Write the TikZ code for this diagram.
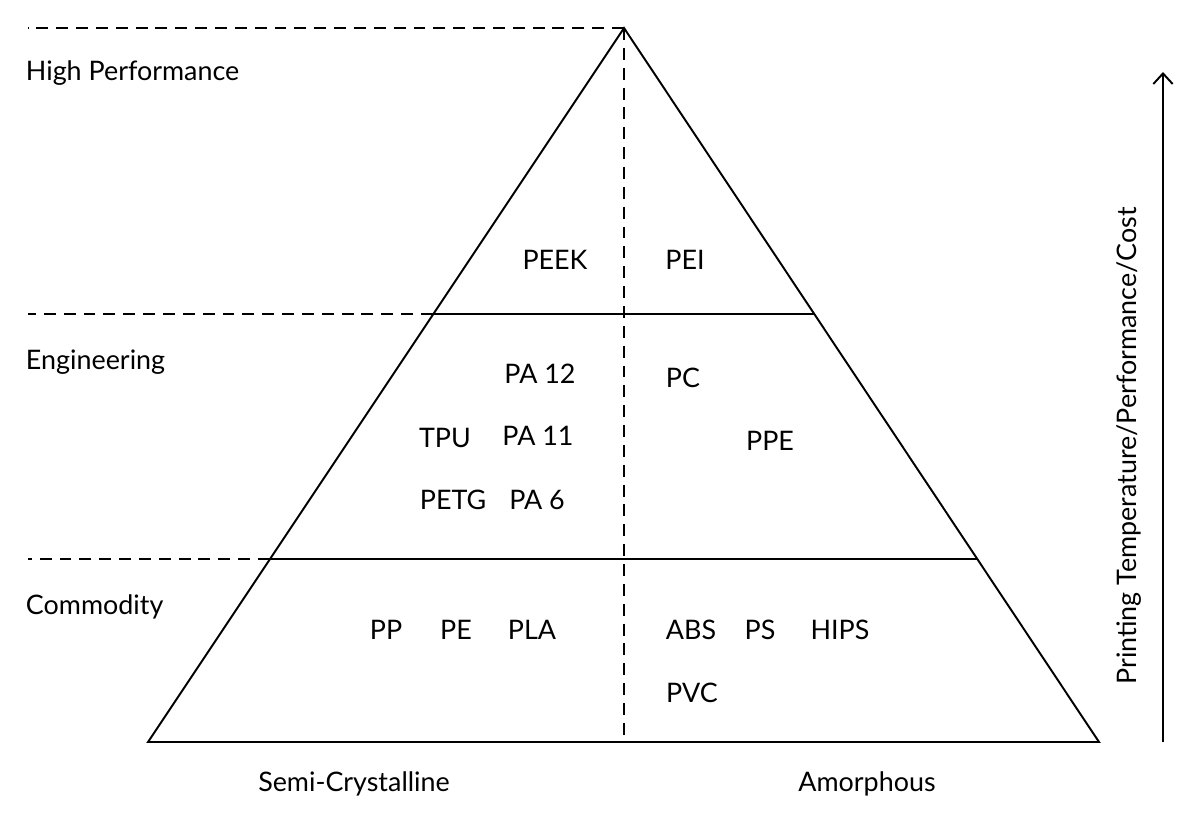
\documentclass[tikz,border=0pt]{standalone}
\usepackage{fontspec}
\setmainfont{Lato}
\usetikzlibrary{arrows.meta}
\tikzset{>={Straight Barb[length=6pt,width=11pt]}}

\begin{document}
\begin{tikzpicture}[x=0.02cm,y=-0.02cm,line width=1.1pt,
    level/.style={dash pattern=on 6.8pt off 4.5pt},
    mat/.style={font=\fontsize{15.3}{18}\selectfont,inner sep=0pt,anchor=base},
    tier/.style={mat,anchor=base west}]
  \useasboundingbox (0,0) rectangle (1200,814);
  % pyramid corners and tier levels
  \coordinate (top) at (624,28);
  \coordinate (bl)  at (148,742);
  \coordinate (br)  at (1099,742);
  \coordinate (mid) at (624,742);
  \coordinate (hl) at (433,314);  \coordinate (hr) at (814,314);
  \coordinate (el) at (270,559);  \coordinate (er) at (977,559);
  \draw (top) -- (bl) -- (br) -- cycle;
  \draw (hl) -- (hr);
  \draw (el) -- (er);
  \draw[level] (top) -- (mid);
  \draw[level] (top) -- (28,28);
  \draw[level] (hl) -- (28,314);
  \draw[level] (el) -- (28,559);
  % tiers
  \node[tier] (hp)  at (25,81)  {High Performance};
  \node[tier] (eng) at (25,369) {Engineering};
  \node[tier] (com) at (25,614) {Commodity};
  % materials
  \node[mat] (peek) at (555,270) {PEEK};
  \node[mat] (pei)  at (685,270) {PEI};
  \node[mat] (pa12) at (540,383) {PA 12};
  \node[mat] (pc)   at (683,387) {PC};
  \node[mat] (tpu)  at (445,447) {TPU};
  \node[mat] (pa11) at (538,445) {PA 11};
  \node[mat] (ppe)  at (770,450) {PPE};
  \node[mat] (petg) at (453,509) {PETG};
  \node[mat] (pa6)  at (537,509) {PA 6};
  \node[mat] (pp)   at (386,639) {PP};
  \node[mat] (pe)   at (456,639) {PE};
  \node[mat] (pla)  at (532,639) {PLA};
  \node[mat] (abs)  at (691,639) {ABS};
  \node[mat] (ps)   at (760,639) {PS};
  \node[mat] (hips) at (840,639) {HIPS};
  \node[mat] (pvc)  at (692,702) {PVC};
  % structure
  \node[mat] (semi) at (354,791) {Semi-Crystalline};
  \node[mat] (amor) at (867,791) {Amorphous};
  % scale arrow
  \coordinate (a0) at (1163,742);
  \coordinate (a1) at (1163,72);
  \draw[->] (a0) -- (a1);
  \node[mat,anchor=center,rotate=90] (cost) at (1129,446) {Printing Temperature/Performance/Cost};
\end{tikzpicture}
\end{document}
